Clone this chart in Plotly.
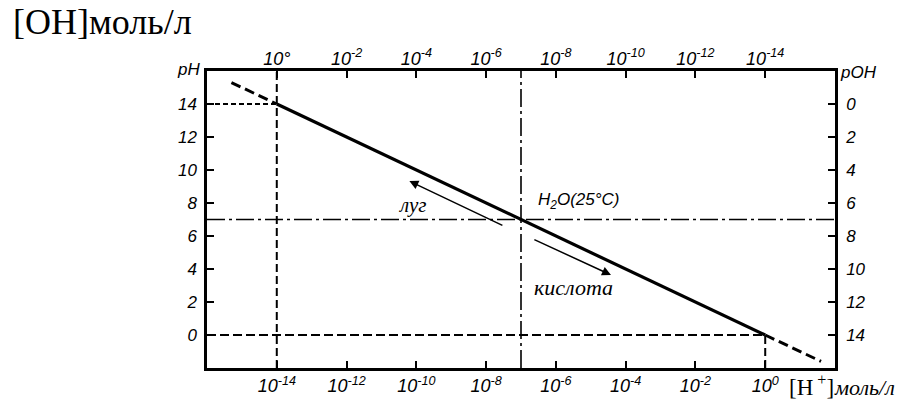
import plotly.graph_objects as go

# Decimal exponents of [H+] marked on the lower axis, and of [OH-] on the upper axis
h_exponents = [-14, -12, -10, -8, -6, -4, -2, 0]
h_tick_text = ["10<sup>-14</sup>", "10<sup>-12</sup>", "10<sup>-10</sup>", "10<sup>-8</sup>",
               "10<sup>-6</sup>", "10<sup>-4</sup>", "10<sup>-2</sup>", "10<sup>0</sup>"]
oh_tick_text = ["10°", "10<sup>-2</sup>", "10<sup>-4</sup>", "10<sup>-6</sup>",
                "10<sup>-8</sup>", "10<sup>-10</sup>", "10<sup>-12</sup>", "10<sup>-14</sup>"]

# pH scale (left) and pOH scale (right)
ph_ticks = [0, 2, 4, 6, 8, 10, 12, 14]
poh_ticks_at_ph = [14, 12, 10, 8, 6, 4, 2, 0]
poh_labels = ["0", "2", "4", "6", "8", "10", "12", "14"]

# pH versus lg[H+]: solid inside 10^-14 .. 10^0, dashed beyond
solid_lgh = [-14, 0]
solid_ph = [14, 0]
ext_left_lgh = [-15.3, -14]
ext_left_ph = [15.3, 14]
ext_right_lgh = [0, 1.6]
ext_right_ph = [0, -1.6]

# Neutral water point
neutral_lgh = -7
neutral_ph = 7

X_RANGE = [-16, 2]
Y_RANGE = [-2, 16]

tick_font = dict(family="Liberation Sans, Arial, sans-serif", size=17, color="black", style="italic")
pow_font = dict(family="Liberation Sans, Arial, sans-serif", size=18, color="black", style="italic")
serif = "Liberation Serif, Times New Roman, serif"
ink = "black"

fig = go.Figure()


def seg(x, y, width, dash, xaxis="x", yaxis="y"):
    fig.add_trace(go.Scatter(x=x, y=y, mode="lines", xaxis=xaxis, yaxis=yaxis,
                             line=dict(color=ink, width=width, dash=dash),
                             hoverinfo="skip", showlegend=False))


# reference guide lines
seg([X_RANGE[0], -14], [14, 14], 2, "5px,3px")
seg([-14, -14], Y_RANGE, 2, "8px,4px")
seg([X_RANGE[0], 0], [0, 0], 2, "9px,4px")
seg([0, 0], [Y_RANGE[0], 0], 2, "8px,4px")
seg([neutral_lgh, neutral_lgh], Y_RANGE, 1.6, "18px,4px,3px,4px")
seg(X_RANGE, [neutral_ph, neutral_ph], 1.6, "18px,4px,3px,4px")

# the pH line
seg(ext_left_lgh, ext_left_ph, 3, "10px,5px")
seg(solid_lgh, solid_ph, 3.2, "solid")
seg(ext_right_lgh, ext_right_ph, 3, "10px,5px")

# invisible trace to carry the secondary axes
fig.add_trace(go.Scatter(x=X_RANGE, y=Y_RANGE, mode="markers", xaxis="x2", yaxis="y2",
                         marker=dict(opacity=0), hoverinfo="skip", showlegend=False))

axis_common = dict(showgrid=False, zeroline=False, showline=True, linecolor=ink, linewidth=2.5,
                   ticks="inside", ticklen=7, tickwidth=2, tickcolor=ink,
                   automargin=False)

fig.update_layout(
    width=909, height=401,
    margin=dict(l=207, r=74, t=71, b=33),
    paper_bgcolor="white", plot_bgcolor="white",
    xaxis=dict(range=X_RANGE, tickvals=h_exponents, ticktext=h_tick_text, tickfont=pow_font,
               ticklabelstandoff=0, **axis_common),
    xaxis2=dict(range=X_RANGE, overlaying="x", side="top", tickvals=h_exponents,
                ticktext=oh_tick_text, tickfont=pow_font, ticklabelstandoff=-4, **axis_common),
    yaxis=dict(range=Y_RANGE, tickvals=ph_ticks, ticktext=[str(v) for v in ph_ticks],
               tickfont=tick_font, ticklabelstandoff=4, **axis_common),
    yaxis2=dict(range=Y_RANGE, overlaying="y", side="right", anchor="x",
                tickvals=poh_ticks_at_ph, ticktext=poh_labels, tickfont=tick_font,
                ticklabelstandoff=5, **axis_common),
)

annotations = [
    # axis captions
    dict(text="pH", x=-16, y=16, xref="x", yref="y", xanchor="right", yanchor="middle", xshift=-5,
         yshift=2, showarrow=False, font=tick_font),
    dict(text="pOH", x=2, y=16, xref="x", yref="y", xanchor="left", yanchor="middle", xshift=3,
         yshift=-1, showarrow=False, font=tick_font),
    dict(text="[OH]моль/л", x=-0.312, y=1, xref="paper", yref="paper", showarrow=False,
         font=dict(family=serif, size=36, color=ink),
         xanchor="left", yanchor="bottom", yshift=27),
    dict(text="[H<sup> +</sup>]", x=2, y=-2, xref="x", yref="y", xanchor="right", yanchor="top",
         xshift=1, yshift=-1, showarrow=False,
         font=dict(family=serif, size=23, color=ink)),
    dict(text="моль/л", x=2, y=-2, xref="x", yref="y", xanchor="left", yanchor="top",
         xshift=-3, yshift=-5, showarrow=False,
         font=dict(family=serif, size=22, color=ink, style="italic")),
    # direction labels
    dict(text="луг", x=-10.1, y=7.9, xref="x", yref="y", showarrow=False,
         font=dict(family=serif, size=21, color=ink, style="italic")),
    dict(text="кислота", x=-5.5, y=2.9, xref="x", yref="y", showarrow=False,
         font=dict(family=serif, size=22, color=ink, style="italic")),
    dict(text="H<sub>2</sub>O(25°C)", x=-5.35, y=8.15, xref="x", yref="y", showarrow=False,
         font=dict(family="Liberation Sans, Arial, sans-serif", size=17, color=ink, style="italic")),
    # arrows
    dict(x=-10.2, y=9.33, ax=-7.49, ay=6.6, xref="x", yref="y", axref="x", ayref="y", text="",
         showarrow=True, arrowhead=2, arrowsize=1.2, arrowwidth=1.5, arrowcolor=ink),
    dict(x=-4.42, y=3.64, ax=-6.66, ay=5.82, xref="x", yref="y", axref="x", ayref="y", text="",
         showarrow=True, arrowhead=2, arrowsize=1.2, arrowwidth=1.5, arrowcolor=ink),
]
fig.update_layout(annotations=annotations)

fig.write_html("out.html")
